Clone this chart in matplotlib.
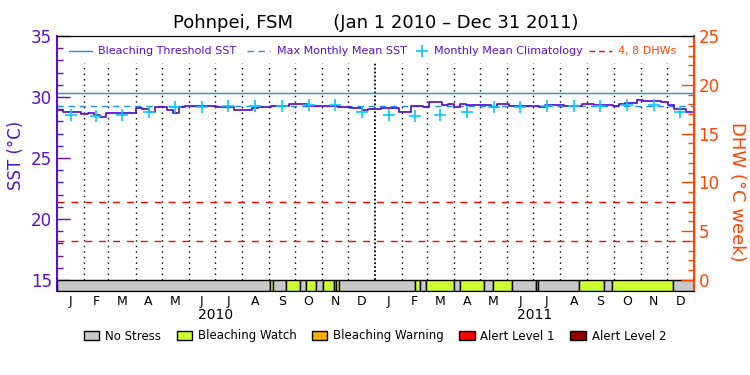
import matplotlib
matplotlib.use('Agg')
import matplotlib.pyplot as plt
from matplotlib.patches import Patch
from matplotlib.ticker import FixedLocator
import numpy as np
import pandas as pd

# weekly SST (deg C), week 0 = Jan 1 2010
sst_weekly = [28.9, 28.8, 28.8, 28.8, 28.6, 28.65, 28.5, 28.4, 28.7, 28.7,
              28.7, 28.7, 28.7, 29.1, 29.0, 28.8, 29.2, 29.2, 28.95, 28.7,
              29.2, 29.25, 29.25, 29.25, 29.25, 29.25, 29.2, 29.2, 29.15, 28.95,
              28.95, 28.9, 29.1, 29.2, 29.2, 29.3, 29.3, 29.3, 29.4, 29.4,
              29.4, 29.3, 29.3, 29.3, 29.3, 29.3, 29.2, 29.2, 29.1, 29.1,
              28.95, 29.05, 29.05, 29.1, 29.1, 29.1, 28.8, 28.8, 29.3, 29.3,
              29.2, 29.6, 29.55, 29.35, 29.45, 29.2, 29.45, 29.35, 29.35, 29.35,
              29.35, 29.2, 29.4, 29.4, 29.3, 29.3, 29.3, 29.3, 29.3, 29.2,
              29.35, 29.35, 29.35, 29.3, 29.3, 29.3, 29.45, 29.4, 29.35, 29.35,
              29.35, 29.3, 29.45, 29.5, 29.5, 29.75, 29.65, 29.65, 29.65, 29.55,
              29.35, 29.0, 29.0, 28.75, 28.75]

# monthly mean climatology, Jan..Dec
clim = [28.5, 28.45, 28.5, 28.8, 29.2, 29.22, 29.28, 29.28, 29.28, 29.32, 29.32, 28.78]

mmm = 29.3
threshold = 30.3
dhw_levels = [4, 8]

# stress level segments: start day (from Jan 1 2010) and level
stress_start = [0, 244, 247.5, 262, 279, 286, 297, 304.5, 318, 320, 323,
                410, 416, 423, 455, 461.5, 490, 500, 522, 549, 552,
                598.5, 627, 636, 706]
stress_level = [0, 1, 0, 1, 0, 1, 0, 1, 0, 1, 0,
                1, 0, 1, 0, 1, 0, 1, 0, 1, 0,
                1, 0, 1, 0]
stress_names = ['No Stress', 'Bleaching Watch', 'Bleaching Warning', 'Alert Level 1', 'Alert Level 2']
stress_colors = ['#c8c8c8', '#ccff33', '#ffaa00', '#ff0000', '#990000']

month_letters = ['J', 'F', 'M', 'A', 'M', 'J', 'J', 'A', 'S', 'O', 'N', 'D']
years = ['2010', '2011']

purple = '#5a0fc8'
orange = '#ff4500'
blue = '#1a8cff'
cyan = '#00ccff'
red = '#ff0000'

start = pd.Timestamp('2010-01-01')
month_starts = pd.date_range('2010-01-01', '2012-01-01', freq='MS')
month_days = np.array([(d - start).days for d in month_starts])
month_mid = (month_days[:-1] + month_days[1:]) / 2
total_days = month_days[-1]

ymin = 14.1

fig = plt.figure(figsize=(7.5, 3.75), dpi=100)
ax = fig.add_axes([0.076, 0.224, 0.849, 0.68])

# stress bar
seg_end = stress_start[1:] + [total_days]
for s, e, lev in zip(stress_start, seg_end, stress_level):
    ax.bar(s, 15 - ymin, width=e - s, bottom=ymin, align='edge',
           color=stress_colors[lev], edgecolor='black', linewidth=1, zorder=3)

# month dotted lines
for d in month_days[1:-1]:
    if d == 365:
        ax.vlines(d, 15, 32.8, colors='black', linestyles=(0, (1, 1.2)), linewidth=1.3, zorder=1)
    else:
        ax.vlines(d, 15, 32.8, colors='black', linestyles=(0, (1, 3)), linewidth=1, zorder=1)

ax.axhline(threshold, color=blue, linewidth=1, zorder=2)
ax.axhline(mmm, color=blue, linewidth=1, dashes=(4.5, 3.5), zorder=2)

week_days = np.arange(len(sst_weekly)) * 7
ax.step(week_days, sst_weekly, where='post', color=purple, linewidth=1.25, zorder=4)

ax.plot(month_mid, clim * 2, linestyle='none', marker='+', markersize=9,
        markeredgewidth=1.2, color=cyan, zorder=5)

ax.set_xlim(0, total_days)
ax.set_ylim(ymin, 35)
ax.yaxis.set_major_locator(FixedLocator([15, 20, 25, 30, 35]))
ax.yaxis.set_minor_locator(FixedLocator(np.arange(15, 36, 1)))
ax.tick_params(axis='y', which='major', direction='in', length=9.5, width=1,
               color=purple, labelcolor=purple, labelsize=12)
ax.tick_params(axis='y', which='minor', direction='in', length=4.5, width=1, color=purple)
ax.set_ylabel('SST (°C)', color=purple, fontsize=12, va='center')
ax.yaxis.set_label_coords(-0.064, 0.53)

ax.set_xticks(month_mid)
ax.set_xticklabels(month_letters * 2, fontsize=9)
ax.tick_params(axis='x', length=0, pad=3)
for i, y in enumerate(years):
    ax.text(month_days[12 * i] + 182, -0.065, y, transform=ax.get_xaxis_transform(),
            ha='center', va='top', fontsize=10)

ax.spines['left'].set_color(purple)
ax.spines['left'].set_linewidth(1.5)

ax2 = ax.twinx()
ax2.set_ylim((ymin - 15) * 1.25, 25)
for lev in dhw_levels:
    ax2.axhline(lev, color=red, linewidth=1, dashes=(5, 5), zorder=2)
ax2.yaxis.set_major_locator(FixedLocator([0, 5, 10, 15, 20, 25]))
ax2.yaxis.set_minor_locator(FixedLocator(np.arange(0, 26, 1)))
ax2.tick_params(axis='y', which='major', direction='in', length=9.5, width=1,
                color=orange, labelcolor=orange, labelsize=12)
ax2.tick_params(axis='y', which='minor', direction='in', length=4.5, width=1, color=orange)
ax2.set_ylabel('DHW (°C week)', color=orange, fontsize=13, rotation=270, va='center')
ax2.yaxis.set_label_coords(1.068, 0.39)
ax2.spines['right'].set_color(orange)
ax2.spines['right'].set_linewidth(1.5)
ax2.spines['left'].set_visible(False)

# legend row inside the plot (axes fraction layout)
ly = 0.941
tr = ax2.transAxes
ax2.plot([0.019, 0.055], [ly, ly], color=blue, linewidth=1, transform=tr, clip_on=False)
ax2.text(0.064, ly, 'Bleaching Threshold SST', color=purple, fontsize=8, va='center', transform=tr)
ax2.plot([0.298, 0.334], [ly, ly], color=blue, linewidth=1, dashes=(4.5, 3.5), transform=tr, clip_on=False)
ax2.text(0.345, ly, 'Max Monthly Mean SST', color=purple, fontsize=8, va='center', transform=tr)
ax2.plot([0.573], [ly], linestyle='none', marker='+', markersize=9, markeredgewidth=1.2,
         color=cyan, transform=tr, clip_on=False)
ax2.text(0.592, ly, 'Monthly Mean Climatology', color=purple, fontsize=8, va='center', transform=tr)
ax2.plot([0.835, 0.871], [ly, ly], color=red, linewidth=1, dashes=(4, 3), transform=tr, clip_on=False)
ax2.text(0.881, ly, '4, 8 DHWs', color=orange, fontsize=8, va='center', transform=tr)

ax.set_title('Pohnpei, FSM       (Jan 1 2010 – Dec 31 2011)', fontsize=13, pad=6)

patches = [Patch(facecolor=c, edgecolor='black', linewidth=1) for c in stress_colors]
fig.legend(patches, stress_names, ncol=5, loc='center', bbox_to_anchor=(0.5, 0.104),
           frameon=False, fontsize=8.5, handlelength=1.3, handleheight=0.9,
           handletextpad=0.5, columnspacing=1.3)

fig.savefig('out.png', dpi=100)
